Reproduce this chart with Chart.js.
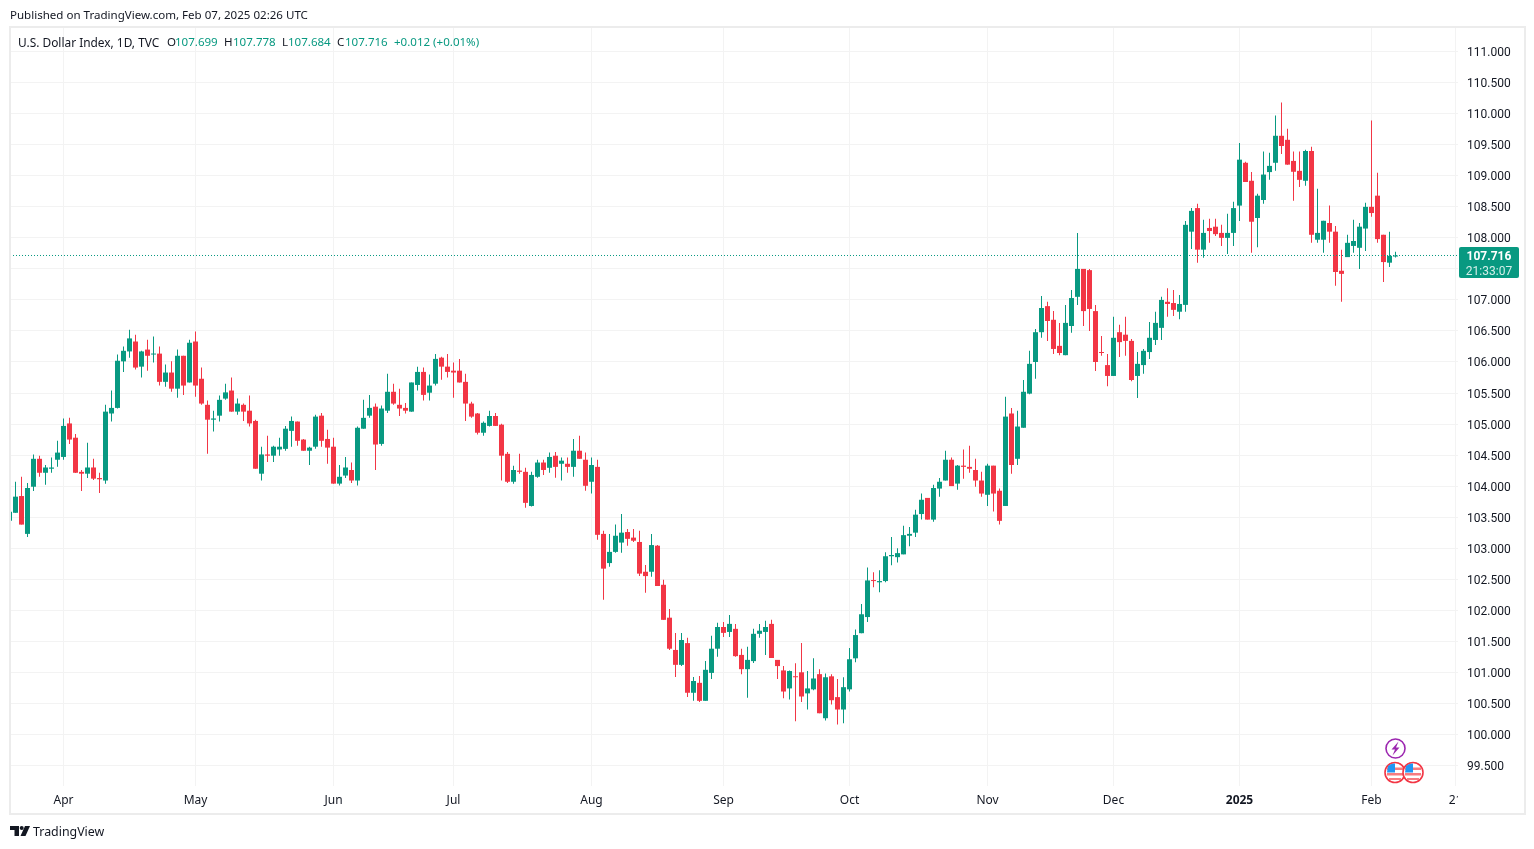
<!DOCTYPE html>
<html><head><meta charset="utf-8">
<script src="https://cdn.jsdelivr.net/npm/chart.js@4"></script>
<style>
html,body{margin:0;padding:0;background:#fff;width:1534px;height:849px;overflow:hidden}
#c{position:absolute;left:0;top:0}
.t{position:absolute;font:11.55px "Noto Sans",sans-serif;color:#131722;white-space:nowrap;line-height:16px}
.g{color:#089981}
#box{position:absolute;left:1459px;top:247px;width:60px;height:29px;padding-top:2px;background:#089981;border-radius:2px;color:#fff;text-align:center;font:bold 12px/15px Roboto,sans-serif}
#box div+div{font-weight:400;color:#d5efe9}
svg{position:absolute;left:0;top:0}
</style></head><body>
<canvas id="c" width="1534" height="849"></canvas>
<div class="t" style="left:10px;top:7px">Published on TradingView.com, Feb 07, 2025 02:26 UTC</div>
<div class="t" style="left:18px;top:34px;font-size:11.9px">U.S. Dollar Index, 1D, TVC</div>
<div class="t" style="left:167px;top:34px">O</div><div class="t g" style="left:175px;top:34px">107.699</div>
<div class="t" style="left:224px;top:34px">H</div><div class="t g" style="left:233px;top:34px">107.778</div>
<div class="t" style="left:282px;top:34px">L</div><div class="t g" style="left:288px;top:34px">107.684</div>
<div class="t" style="left:337px;top:34px">C</div><div class="t g" style="left:345px;top:34px">107.716</div>
<div class="t g" style="left:394px;top:34px">+0.012 (+0.01%)</div>
<div id="box"><div>107.716</div><div>21:33:07</div></div>
<div class="t" style="left:33px;top:824px;font-size:12.4px">TradingView</div>
<svg width="1534" height="849" viewBox="0 0 1534 849">
  <path d="M10 826h9v10h-4.5v-6H10z" fill="#131722"/><circle cx="21.7" cy="828" r="2" fill="#131722"/><path d="M25 826h5l-4.5 10h-5z" fill="#131722"/>
  <circle cx="1395.5" cy="748.5" r="9.5" fill="#fff" stroke="#9c27b0" stroke-width="1.6"/>
  <path d="M1398.5 741.5l-7 8h3.5l-2.5 6 7-8h-3.5z" fill="#9c27b0"/>
  <g id="fa"><circle cx="1395" cy="772.5" r="10" fill="#fff" stroke="#f23645" stroke-width="1.6"/>
  <path d="M1387 767.5h16v2.5h-16zM1387 773h16v2.5h-16zM1389 778h12v2h-12z" fill="#f77c80"/>
  <path d="M1388 766a8.5 8.5 0 0 1 7-2.5v9h-8z" fill="#2196f3"/></g>
  <g transform="translate(18 0)"><circle cx="1395" cy="772.5" r="10" fill="#fff" stroke="#f23645" stroke-width="1.6"/>
  <path d="M1387 767.5h16v2.5h-16zM1387 773h16v2.5h-16zM1389 778h12v2h-12z" fill="#f77c80"/>
  <path d="M1388 766a8.5 8.5 0 0 1 7-2.5v9h-8z" fill="#2196f3"/></g>
</svg>
<script>
const opens=[103.44,103.57,103.84,103.23,103.99,104.44,104.215,104.28,104.425,104.47,
105.01,104.78,104.23,104.20,104.30,104.13,104.09,105.17,105.26,106.01,
106.17,106.33,105.925,106.20,106.12,106.135,105.68,105.83,105.57,106.10,
105.67,106.33,105.73,105.31,105.07,105.135,105.41,105.54,105.20,105.31,
105.215,105.05,104.20,104.51,104.49,104.59,104.60,104.89,105.04,104.75,
104.57,104.635,105.135,104.76,104.635,104.04,104.17,104.26,104.09,104.925,
105.135,105.28,104.68,105.215,105.52,105.31,105.26,105.20,105.63,105.84,
105.505,105.65,106.07,105.925,105.86,105.86,105.68,105.33,105.17,104.86,
104.97,105.13,104.99,104.52,104.07,104.25,104.23,103.68,104.15,104.38,
104.295,104.49,104.36,104.36,104.31,104.57,104.425,104.07,104.31,103.23,
102.76,102.94,103.09,103.26,103.17,103.10,102.62,102.62,103.04,102.41,
101.88,101.36,101.12,101.47,100.67,100.83,100.54,100.99,101.38,101.73,
101.65,101.70,101.28,101.05,101.18,101.62,101.65,101.78,101.20,101.03,
100.74,100.935,101.00,100.66,100.725,100.97,100.26,100.935,100.60,100.40,
100.725,101.225,101.63,101.89,102.48,102.45,102.47,102.87,102.855,102.90,
103.20,103.25,103.55,103.81,103.46,103.96,104.09,104.425,104.04,104.33,
104.31,104.26,104.09,103.86,104.33,103.925,103.68,105.17,104.44,104.94,
105.49,106.00,106.48,106.90,106.68,106.26,106.11,106.58,107.05,107.50,
107.48,106.82,106.16,105.95,105.775,106.48,106.44,106.34,105.775,105.95,
106.16,106.355,106.55,106.97,106.95,106.81,106.92,108.10,108.48,107.81,
108.16,108.18,108.08,108.00,108.08,108.52,109.21,108.92,108.32,108.61,
109.06,109.21,109.645,109.58,109.24,109.08,108.92,109.40,107.97,107.97,
108.24,108.10,107.47,107.69,107.87,107.84,108.15,108.50,108.68,108.05,
107.60,107.699];
const highs=[103.60,104.07,104.15,104.05,104.51,104.49,104.34,104.46,104.73,105.09,
105.10,104.84,104.26,104.70,104.44,104.215,105.31,105.54,106.12,106.25,
106.52,106.44,106.18,106.36,106.41,106.25,105.96,106.01,106.20,106.10,
106.36,106.49,105.91,105.38,105.215,105.46,105.65,105.75,105.41,105.33,
105.46,105.07,104.635,104.81,104.65,104.78,104.97,105.12,105.04,104.76,
104.635,105.15,105.18,104.91,104.78,104.34,104.47,104.38,104.96,105.39,
105.47,105.33,105.30,105.81,105.65,105.57,105.34,105.67,105.925,105.91,
105.80,106.13,106.085,106.13,105.99,106.05,105.81,105.36,105.18,105.04,
105.215,105.18,105.005,104.55,104.33,104.52,104.295,104.23,104.425,104.425,
104.54,104.55,104.46,104.46,104.76,104.81,104.54,104.46,104.425,103.28,
103.23,103.38,103.55,103.31,103.31,103.28,102.73,103.23,103.05,102.49,
102.02,101.635,101.635,101.555,100.925,100.94,101.18,101.59,101.80,101.81,
101.925,101.78,101.38,101.41,101.70,101.78,101.83,101.845,101.20,101.10,
101.03,101.145,101.47,101.02,101.225,101.05,100.98,100.97,100.89,100.92,
101.39,101.69,102.10,102.69,102.61,102.645,102.935,103.18,103.00,103.36,
103.34,103.62,103.88,103.81,104.02,104.13,104.57,104.46,104.34,104.59,
104.65,104.44,104.23,104.36,104.33,103.96,105.44,105.26,105.215,105.71,
106.18,106.53,107.065,106.97,106.82,106.63,106.92,107.16,108.08,107.50,
107.50,106.92,106.42,106.13,106.73,106.60,106.73,106.37,106.16,106.21,
106.645,106.81,107.05,107.19,107.16,107.08,108.27,108.48,108.55,108.29,
108.31,108.31,108.21,108.39,108.58,109.53,109.225,109.06,108.71,109.39,
109.37,109.97,110.18,109.76,109.39,109.39,109.42,109.47,108.79,108.275,
108.52,108.19,107.81,108.05,108.29,108.24,108.565,109.89,109.05,108.05,
108.10,107.778];
const lows=[103.42,103.57,103.38,103.18,103.92,104.15,104.02,104.215,104.31,104.425,
104.68,104.21,103.92,104.13,104.10,103.89,104.04,105.04,105.25,105.84,
106.07,105.88,105.75,105.86,105.99,105.62,105.60,105.52,105.425,105.47,
105.67,105.44,105.31,104.52,104.88,105.04,105.39,105.20,105.15,105.05,
104.96,104.28,104.09,104.39,104.39,104.49,104.57,104.635,104.65,104.57,
104.34,104.60,104.635,104.36,104.04,104.01,104.13,104.05,104.01,104.925,
105.10,104.26,104.65,105.18,105.31,105.13,105.17,105.20,105.54,105.38,
105.38,105.62,105.715,105.75,105.425,105.67,105.05,105.10,104.83,104.81,
104.96,104.97,104.09,104.05,104.04,104.20,103.65,103.67,104.135,104.18,
104.215,104.135,104.09,104.215,104.15,104.44,103.925,103.88,103.135,102.17,
102.70,102.925,102.925,103.04,103.10,102.55,102.28,102.54,102.39,101.845,
101.36,100.925,101.10,100.60,100.54,100.52,100.54,100.89,101.25,101.57,
101.57,101.25,100.97,100.59,101.15,101.555,101.28,101.23,100.89,100.58,
100.56,100.21,100.52,100.40,100.71,100.34,100.225,100.48,100.16,100.18,
100.69,101.16,101.63,101.81,102.37,102.29,102.45,102.725,102.77,102.90,
103.03,103.18,103.46,103.46,103.425,103.83,104.09,104.00,103.94,104.12,
104.215,103.99,103.83,103.68,103.59,103.38,103.68,104.20,104.34,104.94,
105.48,105.73,106.39,106.34,106.13,106.11,106.11,106.47,106.92,106.58,
106.50,105.855,106.10,105.61,105.775,106.08,106.10,105.69,105.42,105.81,
106.05,106.275,106.355,106.73,106.74,106.69,106.81,107.82,107.60,107.68,
107.92,108.03,107.87,107.74,107.87,108.27,108.90,107.76,107.85,108.55,
108.935,109.08,109.35,109.18,108.60,108.82,108.84,107.92,107.92,107.76,
107.92,107.23,106.97,107.69,107.76,107.50,107.79,108.34,107.92,107.29,
107.53,107.684];
const closes=[103.586,103.83,103.38,103.97,104.44,104.215,104.30,104.30,104.54,104.97,
104.75,104.215,104.20,104.30,104.12,104.11,105.20,105.26,106.02,106.18,
106.38,105.91,106.17,106.10,106.135,105.68,105.83,105.57,106.10,105.62,
106.31,105.62,105.33,105.07,105.09,105.39,105.51,105.20,105.33,105.20,
105.01,104.28,104.51,104.49,104.635,104.635,104.925,105.05,104.73,104.57,
104.62,105.12,104.73,104.62,104.04,104.15,104.30,104.09,104.94,105.10,
105.26,104.67,105.25,105.52,105.33,105.25,105.215,105.67,105.84,105.47,
105.62,106.05,105.925,105.84,105.83,105.67,105.33,105.12,104.86,105.02,
105.13,104.97,104.49,104.07,104.26,104.23,103.73,104.18,104.38,104.26,
104.47,104.31,104.41,104.31,104.57,104.44,104.005,104.34,103.215,102.67,
102.94,103.20,103.25,103.15,103.12,102.59,102.55,103.05,102.39,101.845,
101.38,101.12,101.52,100.67,100.86,100.54,101.04,101.38,101.73,101.635,
101.78,101.26,101.05,101.20,101.62,101.67,101.73,101.23,101.10,100.69,
101.02,100.92,100.61,100.74,100.90,100.34,100.92,100.55,100.40,100.76,
101.21,101.60,101.935,102.48,102.47,102.47,102.87,102.89,102.92,103.21,
103.23,103.54,103.78,103.46,103.97,104.07,104.425,104.00,104.33,104.31,
104.28,104.09,103.88,104.33,103.88,103.44,105.12,104.34,104.96,105.52,
105.97,106.48,106.87,106.66,106.21,106.145,106.63,107.03,107.50,106.82,
106.855,106.00,106.145,105.775,106.39,106.32,106.34,105.71,105.97,106.18,
106.39,106.63,107.00,106.935,106.84,106.935,108.21,108.435,107.81,108.08,
108.11,108.06,108.00,108.08,108.48,109.26,108.90,108.26,108.68,109.02,
109.16,109.645,109.48,109.18,109.065,108.935,109.40,108.05,108.08,108.275,
108.10,107.45,107.42,107.92,107.95,108.18,108.50,108.40,107.98,107.61,
107.71,107.716];
const lastPrice=107.716;
const tickIndex=[9,31,54,74,97,119,140,163,184,205,227,241];
const tickLabels=['Apr','May','Jun','Jul','Aug','Sep','Oct','Nov','Dec','2025','Feb','21'];
const UP='#089981',DOWN='#F23645';
const xMin=0.5/6,xMax=1448.5/6,yMax=111.3817,yMin=99.1677;
const colors=opens.map((o,i)=>closes[i]>=o?UP:DOWN);
const frame={id:'frame',afterDraw(ch){const g=ch.ctx;g.save();
  g.fillStyle='#fff';g.fillRect(1458,788,60,24);
  g.strokeStyle='#ececec';g.lineWidth=2;g.strokeRect(10,27,1515,787);g.restore();}};
new Chart(document.getElementById('c'),{
 data:{datasets:[
  {type:'line',data:[{x:xMin,y:lastPrice},{x:xMax,y:lastPrice}],borderColor:UP,borderWidth:1,borderDash:[1,2],pointRadius:0,order:0},
  {type:'bar',data:opens.map((o,i)=>({x:i,y:[o,closes[i]]})),backgroundColor:colors,barThickness:5,grouped:false,minBarLength:1,inflateAmount:0,order:1},
  {type:'bar',data:lows.map((l,i)=>({x:i,y:[l,highs[i]]})),backgroundColor:colors,barThickness:1,grouped:false,inflateAmount:0,order:2}
 ]},
 options:{responsive:false,animation:false,devicePixelRatio:1,
  layout:{padding:{left:10,right:9,top:28,bottom:36}},
  plugins:{legend:{display:false},tooltip:{enabled:false}},
  scales:{
   x:{type:'linear',min:xMin,max:xMax,offset:false,
     afterBuildTicks(s){s.ticks=tickIndex.map(v=>({value:v}));},
     afterFit(s){s.height=27;},
     grid:{color:'#f3f3f3',drawTicks:false,offset:false},border:{display:false},
     ticks:{autoSkip:false,maxRotation:0,padding:7,color:'#131722',
       font:c=>({family:'Noto Sans',size:12,weight:(c.tick&&tickLabels[tickIndex.indexOf(c.tick.value)]==='2025')?'bold':'normal'}),
       callback:v=>tickLabels[tickIndex.indexOf(v)]}},
   y:{type:'linear',position:'right',min:yMin,max:yMax,
     afterFit(s){s.width=67;},
     afterBuildTicks(s){s.ticks=s.ticks.filter(t=>Math.abs(t.value*2-Math.round(t.value*2))<1e-6);},
     grid:{color:'#f3f3f3',drawTicks:false},border:{display:false},
     ticks:{stepSize:0.5,padding:9,crossAlign:'near',color:'#131722',font:{family:'Roboto',size:12,lineHeight:'3px'},callback:v=>['',v.toFixed(3)]}}
  }},
 plugins:[frame]
});
</script>
</body></html>
